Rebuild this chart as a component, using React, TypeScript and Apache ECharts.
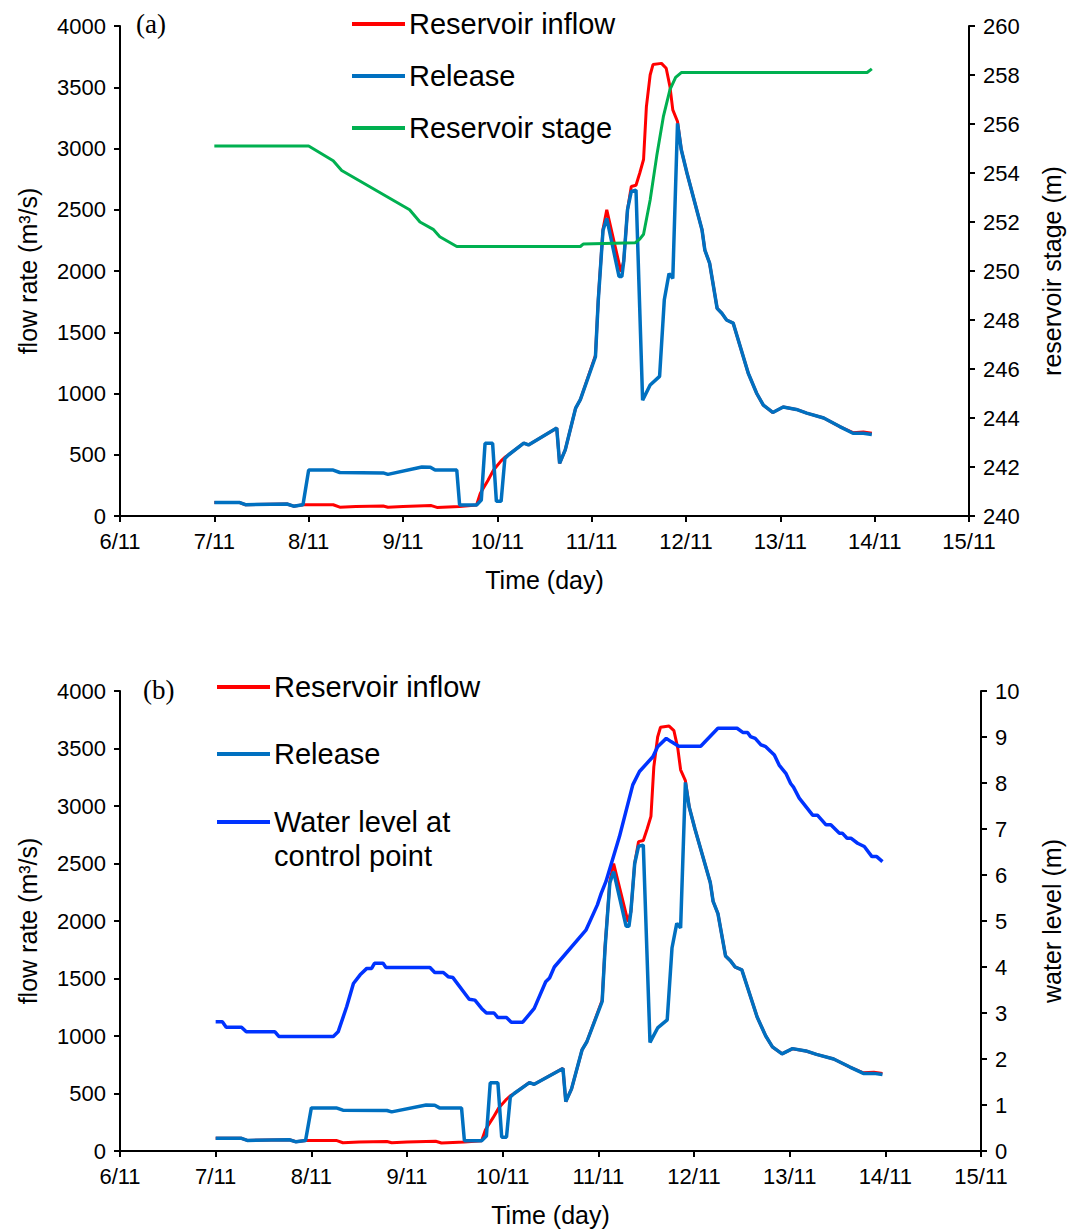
import React, { useEffect, useRef } from "react";
import * as echarts from "echarts";

// ---- Data (day of November, value) ----
const inflowDays = [7.0, 7.27, 7.33, 7.77, 7.84, 7.94, 8.0, 8.26, 8.33, 8.5, 8.79, 8.84, 9.0, 9.3, 9.36, 9.6, 9.78, 9.82, 9.9, 9.96, 10.04, 10.08, 10.12, 10.28, 10.33, 10.63, 10.66, 10.72, 10.83, 10.88, 11.04, 11.07, 11.12, 11.16, 11.31, 11.34, 11.38, 11.42, 11.47, 11.51, 11.55, 11.58, 11.62, 11.65, 11.74, 11.79, 11.83, 11.86, 11.91, 11.95, 12.01, 12.17, 12.2, 12.25, 12.33, 12.38, 12.43, 12.5, 12.66, 12.75, 12.82, 12.92, 13.03, 13.17, 13.28, 13.46, 13.63, 13.77, 13.88, 13.97];
const inflowValues = [110, 110, 92, 98, 80, 92, 92, 92, 72, 78, 82, 72, 78, 85, 70, 78, 90, 185, 290, 375, 450, 480, 500, 595, 580, 718, 430, 540, 880, 950, 1310, 1770, 2340, 2500, 1995, 2080, 2500, 2690, 2700, 2800, 2910, 3340, 3600, 3685, 3695, 3655, 3505, 3315, 3220, 2990, 2800, 2335, 2170, 2065, 1695, 1655, 1600, 1575, 1165, 1000, 905, 845, 890, 870, 840, 800, 730, 680, 685, 675];

const releaseDays = [7.0, 7.27, 7.33, 7.77, 7.84, 7.94, 8.0, 8.26, 8.33, 8.79, 8.84, 9.2, 9.29, 9.34, 9.57, 9.6, 9.78, 9.83, 9.87, 9.95, 9.99, 10.04, 10.08, 10.12, 10.28, 10.33, 10.63, 10.66, 10.72, 10.83, 10.88, 11.04, 11.07, 11.12, 11.16, 11.29, 11.32, 11.34, 11.38, 11.42, 11.47, 11.54, 11.62, 11.72, 11.77, 11.82, 11.86, 11.91, 11.95, 12.01, 12.17, 12.2, 12.25, 12.33, 12.38, 12.43, 12.5, 12.66, 12.75, 12.82, 12.92, 13.03, 13.17, 13.28, 13.46, 13.63, 13.77, 13.88, 13.97];
const releaseValues = [110, 110, 92, 98, 80, 92, 375, 375, 355, 352, 340, 400, 398, 375, 375, 90, 90, 130, 593, 593, 120, 120, 470, 500, 595, 580, 718, 430, 540, 880, 950, 1300, 1760, 2330, 2430, 1955, 1955, 2080, 2500, 2650, 2660, 945, 1070, 1140, 1765, 1980, 1940, 3205, 2990, 2800, 2335, 2170, 2065, 1695, 1655, 1600, 1575, 1165, 1000, 905, 845, 890, 870, 840, 800, 730, 675, 675, 665];

const stageDays = [7.0, 8.0, 8.26, 8.35, 9.07, 9.18, 9.32, 9.39, 9.57, 10.88, 10.91, 11.46, 11.51, 11.55, 11.62, 11.69, 11.76, 11.83, 11.89, 11.95, 13.92, 13.97];
const stageValues = [255.1, 255.1, 254.5, 254.1, 252.5, 252.0, 251.7, 251.4, 251.0, 251.0, 251.1, 251.15, 251.3, 251.5, 252.9, 254.7, 256.3, 257.4, 257.9, 258.1, 258.1, 258.25];

const levelDays = [7.0, 7.07, 7.11, 7.27, 7.32, 7.62, 7.66, 8.23, 8.28, 8.37, 8.44, 8.51, 8.58, 8.63, 8.66, 8.75, 8.78, 9.24, 9.29, 9.38, 9.43, 9.48, 9.65, 9.71, 9.78, 9.83, 9.91, 9.95, 10.04, 10.09, 10.21, 10.33, 10.45, 10.49, 10.54, 10.87, 10.99, 11.03, 11.08, 11.22, 11.36, 11.43, 11.57, 11.62, 11.71, 11.76, 11.84, 12.07, 12.25, 12.45, 12.51, 12.56, 12.59, 12.64, 12.7, 12.75, 12.84, 12.89, 12.96, 13.01, 13.04, 13.1, 13.24, 13.29, 13.38, 13.43, 13.52, 13.55, 13.6, 13.64, 13.71, 13.78, 13.86, 13.91, 13.97];
const levelValues = [2.81, 2.81, 2.69, 2.69, 2.59, 2.59, 2.49, 2.49, 2.59, 3.14, 3.64, 3.83, 3.97, 3.97, 4.08, 4.08, 3.99, 3.99, 3.88, 3.88, 3.79, 3.77, 3.3, 3.28, 3.1, 3.0, 3.0, 2.9, 2.9, 2.8, 2.8, 3.1, 3.68, 3.76, 4.0, 4.8, 5.35, 5.6, 5.86, 6.83, 7.96, 8.25, 8.57, 8.79, 8.97, 8.9, 8.8, 8.8, 9.19, 9.19, 9.1, 9.1, 9.01, 8.97, 8.83, 8.79, 8.61, 8.39, 8.21, 7.99, 7.91, 7.67, 7.3, 7.3, 7.09, 7.09, 6.91, 6.91, 6.8, 6.8, 6.69, 6.62, 6.4, 6.4, 6.29];

const dayTicks = [6, 15];
const flowAxis = [0, 4000, 500];
const stageAxis = [240, 260, 2];
const levelAxis = [0, 10, 1];

const FONT = "'Liberation Sans', Arial, sans-serif";
const zip = (d: number[], v: number[]) => d.map((x, i) => [x, v[i]]);

const xAxisBase = (gridIndex: number) => ({
  type: "value",
  gridIndex,
  min: dayTicks[0],
  max: dayTicks[1],
  interval: 1,
  name: "Time (day)",
  nameLocation: "middle",
  nameGap: 51,
  nameTextStyle: { fontFamily: FONT, fontSize: 25, color: "#000" },
  axisLine: { show: true, onZero: false, lineStyle: { color: "#000", width: 2 } },
  axisTick: { show: true, length: 6, lineStyle: { color: "#000", width: 2 } },
  axisLabel: { fontFamily: FONT, fontSize: 22, color: "#000", margin: 14, formatter: (v: number) => `${v}/11` },
  splitLine: { show: false },
});

const yAxisBase = (gridIndex: number, pos: string, range: number[], name: string, gap: number) => ({
  type: "value",
  gridIndex,
  position: pos,
  min: range[0],
  max: range[1],
  interval: range[2],
  name,
  nameLocation: "middle",
  nameRotate: 90,
  nameGap: gap,
  nameTextStyle: { fontFamily: FONT, fontSize: 25, color: "#000" },
  axisLine: { show: true, onZero: false, lineStyle: { color: "#000", width: 2 } },
  axisTick: { show: true, length: 6, lineStyle: { color: "#000", width: 2 } },
  axisLabel: { fontFamily: FONT, fontSize: 22, color: "#000", margin: 14, formatter: (v: number) => String(v) },
  splitLine: { show: false },
});

const lineSeries = (name: string, data: number[][], color: string, xi: number, yi: number, w = 3) => ({
  type: "line",
  name,
  data,
  xAxisIndex: xi,
  yAxisIndex: yi,
  showSymbol: false,
  symbol: "none",
  lineStyle: { color, width: w },
  itemStyle: { color },
});

const LEG_SIZE = 29;
const legendItem = (x: number, y: number, color: string, text: string) => [
  { type: "line", shape: { x1: x, y1: y, x2: x + 53, y2: y }, style: { stroke: color, lineWidth: 4 } },
  {
    type: "text",
    x: x + 57,
    y,
    style: { text, fontFamily: FONT, fontSize: LEG_SIZE, fill: "#000", textVerticalAlign: "middle" },
  },
];

export default function App() {
  const ref = useRef<HTMLDivElement>(null);
  useEffect(() => {
    if (!ref.current) return;
    const chart = echarts.init(ref.current, null, { renderer: "svg" });
    const RED = "#FF0000";
    const REL = "#0070C0";
    const GREEN = "#00B050";
    const LEVEL = "#0033FF";
    chart.setOption({
      animation: false,
      backgroundColor: "#fff",
      grid: [
        { left: 120, top: 26, width: 849, height: 490 },
        { left: 120, top: 691, width: 862, height: 460 },
      ],
      xAxis: [xAxisBase(0), xAxisBase(1)],
      yAxis: [
        yAxisBase(0, "left", flowAxis, "flow rate (m³/s)", 80),
        yAxisBase(0, "right", stageAxis, "reservoir stage (m)", 70),
        yAxisBase(1, "left", flowAxis, "flow rate (m³/s)", 80),
        yAxisBase(1, "right", levelAxis, "water level (m)", 58),
      ],
      series: [
        lineSeries("Reservoir inflow", zip(inflowDays, inflowValues), RED, 0, 0),
        lineSeries("Release", zip(releaseDays, releaseValues), REL, 0, 0, 3.5),
        lineSeries("Reservoir stage", zip(stageDays, stageValues), GREEN, 0, 1),
        lineSeries("Reservoir inflow", zip(inflowDays, inflowValues), RED, 1, 2),
        lineSeries("Release", zip(releaseDays, releaseValues), REL, 1, 2, 3.5),
        lineSeries("Water level at control point", zip(levelDays, levelValues), LEVEL, 1, 3, 3.5),
      ],
      graphic: [
        { type: "text", x: 136, y: 24, style: { text: "(a)", fontFamily: "'Liberation Serif', 'Times New Roman', serif", fontSize: 27, fill: "#000", textVerticalAlign: "middle" } },
        { type: "text", x: 143, y: 690, style: { text: "(b)", fontFamily: "'Liberation Serif', 'Times New Roman', serif", fontSize: 27, fill: "#000", textVerticalAlign: "middle" } },
        ...legendItem(352, 24, RED, "Reservoir inflow"),
        ...legendItem(352, 76, REL, "Release"),
        ...legendItem(352, 128, GREEN, "Reservoir stage"),
        ...legendItem(217, 687, RED, "Reservoir inflow"),
        ...legendItem(217, 754, REL, "Release"),
        { type: "line", shape: { x1: 217, y1: 822, x2: 270, y2: 822 }, style: { stroke: LEVEL, lineWidth: 4 } },
        { type: "text", x: 274, y: 822, style: { text: "Water level at", fontFamily: FONT, fontSize: LEG_SIZE, fill: "#000", textVerticalAlign: "middle" } },
        { type: "text", x: 274, y: 856, style: { text: "control point", fontFamily: FONT, fontSize: LEG_SIZE, fill: "#000", textVerticalAlign: "middle" } },
      ],
    });
    return () => chart.dispose();
  }, []);
  return (
    <div
      ref={ref}
      style={{ position: "absolute", left: 0, top: 0, width: 1072, height: 1232, background: "#fff" }}
    />
  );
}
